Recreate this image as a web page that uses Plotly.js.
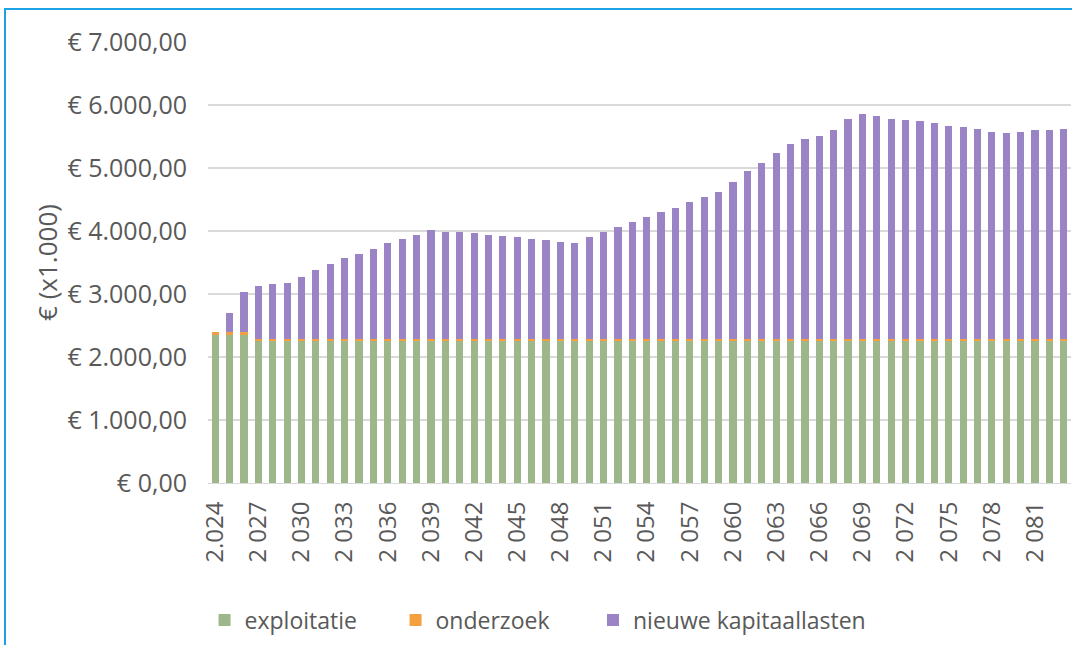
<!DOCTYPE html>
<html>
<head>
<meta charset="utf-8">
<script src="https://cdn.plot.ly/plotly-3.0.1.min.js"></script>
<style>
  body { margin: 0; background: #fff; overflow: hidden; }
  #wrap { position: relative; width: 1072px; height: 645px; }
  #plot { width: 1072px; height: 645px; }
  #frame { position: absolute; left: 4px; top: 8px; width: 1100px; height: 700px;
           border-left: 2px solid #1ca1e4; border-top: 2px solid #1ca1e4; pointer-events: none; }
</style>
</head>
<body>
<div id="wrap">
  <div id="plot"></div>
  <div id="frame"></div>
</div>
<script>
document.addEventListener("DOMContentLoaded", function(event) {

  const years = [
    '2024', '2025', '2026', '2027', '2028', '2029', '2030', '2031', '2032', '2033',
    '2034', '2035', '2036', '2037', '2038', '2039', '2040', '2041', '2042', '2043',
    '2044', '2045', '2046', '2047', '2048', '2049', '2050', '2051', '2052', '2053',
    '2054', '2055', '2056', '2057', '2058', '2059', '2060', '2061', '2062', '2063',
    '2064', '2065', '2066', '2067', '2068', '2069', '2070', '2071', '2072', '2073',
    '2074', '2075', '2076', '2077', '2078', '2079', '2080', '2081', '2082', '2083'
  ];

  const exploitatie = [
    2350, 2350, 2350, 2250, 2250, 2250, 2250, 2250, 2250, 2250,
    2250, 2250, 2250, 2250, 2250, 2250, 2250, 2250, 2250, 2250,
    2250, 2250, 2250, 2250, 2250, 2250, 2250, 2250, 2250, 2250,
    2250, 2250, 2250, 2250, 2250, 2250, 2250, 2250, 2250, 2250,
    2250, 2250, 2250, 2250, 2250, 2250, 2250, 2250, 2250, 2250,
    2250, 2250, 2250, 2250, 2250, 2250, 2250, 2250, 2250, 2250
  ];

  const onderzoek = [
    50, 50, 50, 30, 30, 30, 30, 30, 30, 30,
    30, 30, 30, 30, 30, 30, 30, 30, 30, 30,
    30, 30, 30, 30, 30, 30, 30, 30, 30, 30,
    30, 30, 30, 30, 30, 30, 30, 30, 30, 30,
    30, 30, 30, 30, 30, 30, 30, 30, 30, 30,
    30, 30, 30, 30, 30, 30, 30, 30, 30, 30
  ];

  const kapitaallasten = [
    0, 293, 625, 850, 875, 900, 985, 1105, 1195, 1285,
    1355, 1435, 1525, 1595, 1660, 1730, 1705, 1700, 1685, 1660,
    1640, 1620, 1595, 1570, 1545, 1525, 1620, 1705, 1780, 1865,
    1935, 2020, 2090, 2180, 2265, 2340, 2505, 2665, 2805, 2965,
    3105, 3180, 3225, 3320, 3500, 3570, 3550, 3505, 3480, 3460,
    3435, 3385, 3365, 3345, 3295, 3270, 3295, 3320, 3320, 3345
  ];

  const tickYears = [
    '2024', '2027', '2030', '2033', '2036', '2039', '2042', '2045', '2048', '2051',
    '2054', '2057', '2060', '2063', '2066', '2069', '2072', '2075', '2078', '2081'
  ];
  const tickLabels = [
    '2.024', '2 027', '2 030', '2 033', '2 036', '2 039', '2 042', '2 045', '2 048', '2 051',
    '2 054', '2 057', '2 060', '2 063', '2 066', '2 069', '2 072', '2 075', '2 078', '2 081'
  ];

  const font = '"Open Sans", "Noto Sans", sans-serif';

  const trace1 = {
    x: years,
    y: exploitatie,
    name: 'exploitatie',
    type: 'bar',
    legend: 'legend',
    marker: { color: '#9db68a' }
  };

  const trace2 = {
    x: years,
    y: onderzoek,
    name: 'onderzoek',
    type: 'bar',
    legend: 'legend2',
    marker: { color: '#f4a040' }
  };

  const trace3 = {
    x: years,
    y: kapitaallasten,
    name: 'nieuwe kapitaallasten',
    type: 'bar',
    legend: 'legend3',
    marker: { color: '#9b84c6' }
  };

  // one legend per entry so the spacing can follow the original
  const legendBase = {
    orientation: 'h',
    xanchor: 'left',
    y: -0.311, yanchor: 'middle',
    font: { family: font, size: 23, color: '#595959' },
    itemwidth: 30
  };

  const layout = {
    barmode: 'stack',
    bargap: 0.5,
    separators: ',.',
    width: 1072,
    height: 645,
    margin: { l: 208, r: 1, t: 42, b: 162 },
    paper_bgcolor: 'rgba(0,0,0,0)',
    plot_bgcolor: 'rgba(0,0,0,0)',
    font: { family: font, size: 23, color: '#595959' },
    showlegend: true,
    legend: Object.assign({}, legendBase, { x: -0.004 }),
    legend2: Object.assign({}, legendBase, { x: 0.2173 }),
    legend3: Object.assign({}, legendBase, { x: 0.4461 }),
    xaxis: {
      type: 'category',
      tickmode: 'array',
      tickvals: tickYears,
      ticktext: tickLabels,
      tickangle: -90,
      showgrid: false,
      showline: true,
      linecolor: '#d9d9d9',
      linewidth: 1,
      ticks: '',
      ticklen: 0,
      ticklabelstandoff: 8,
      tickfont: { family: font, size: 24, color: '#595959' }
    },
    yaxis: {
      range: [0, 7000],
      dtick: 1000,
      tickprefix: '€ ',
      tickformat: ',.2f',
      showgrid: true,
      gridcolor: '#d9d9d9',
      gridwidth: 2,
      zeroline: false,
      ticks: '',
      ticklabelstandoff: 20,
      tickfont: { family: font, size: 25, color: '#595959' },
      title: { text: '€ (x1.000)', font: { family: font, size: 26, color: '#595959' }, standoff: 2 }
    }
  };

  Plotly.newPlot('plot', [trace1, trace2, trace3], layout, { displayModeBar: false, staticPlot: true });

});
</script>
</body>
</html>
